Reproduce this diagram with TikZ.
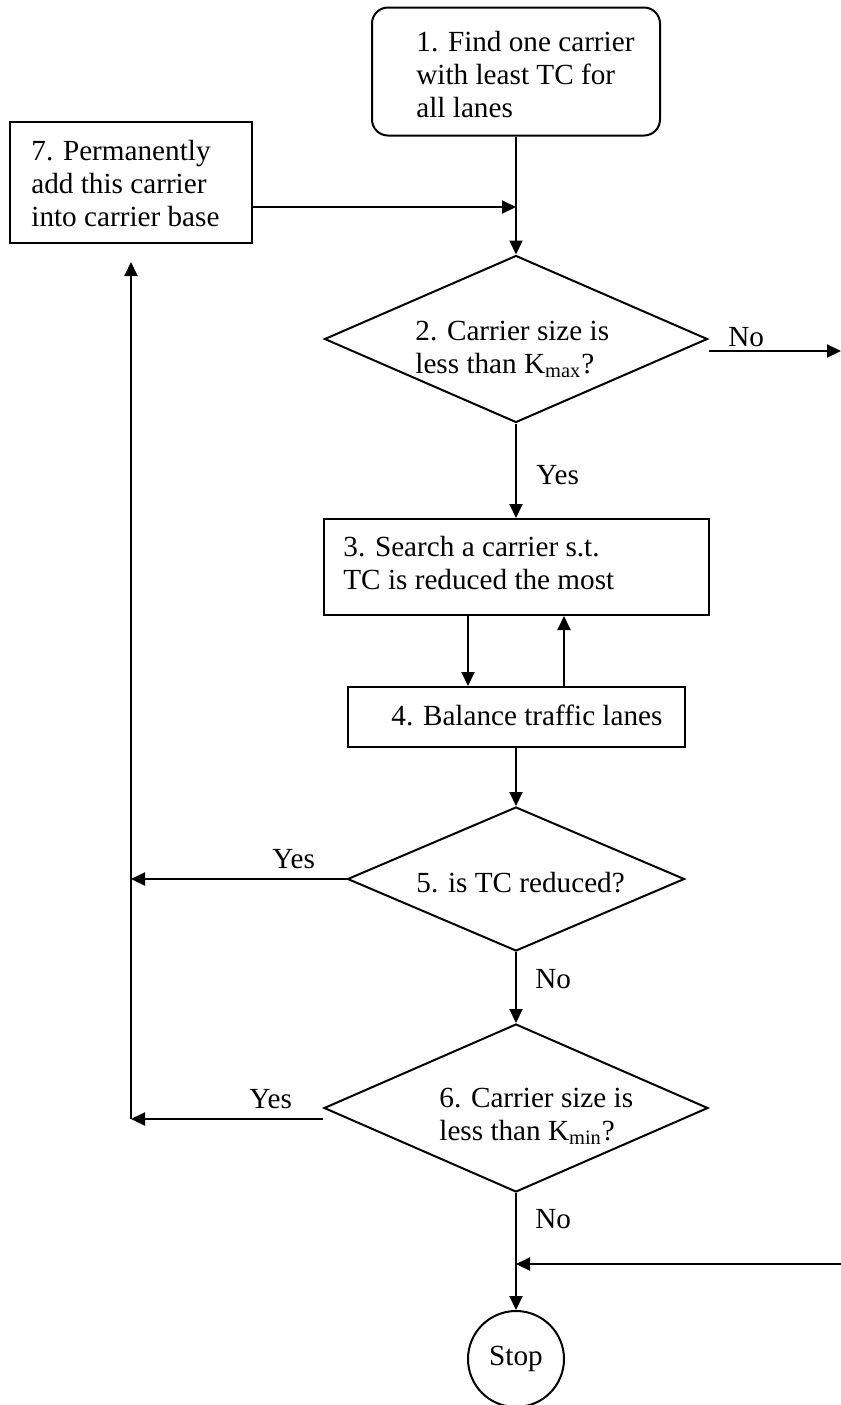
\documentclass[tikz,border=0pt]{standalone}
\usepackage{fontspec}
\setmainfont{Liberation Serif}
\usetikzlibrary{calc,shapes.geometric,arrows.meta}
\newcommand{\flowfont}{\fontsize{14.6}{16.5}\selectfont}

\begin{document}
\begin{tikzpicture}[x=0.5pt, y=-0.5pt, font=\flowfont]
\tikzset{stepbox/.style={draw,line width=1pt,inner sep=0},
decision/.style={stepbox,diamond},
steptext/.style={inner sep=0,align=left,anchor=west},
branchlabel/.style={inner sep=0,anchor=base west},
arr/.style={line width=1pt,-{Triangle[length=7pt,width=6.5pt]}}}

\useasboundingbox (0,0) rectangle (841,1405);

\node (b1) [stepbox,rounded corners=8pt,minimum width=144pt,minimum height=64pt] at (516,71.5) {};
\node (b7) [stepbox,minimum width=121pt,minimum height=60.5pt] at (131,182.5) {};
\node (d2) [decision,minimum width=191.5pt,minimum height=83.5pt] at (516,339) {};
\node (b3) [stepbox,minimum width=192.5pt,minimum height=48pt] at (516,567) {};
\node (b4) [stepbox,minimum width=168.5pt,minimum height=30pt] at (516,717) {};
\node (d5) [decision,minimum width=168.5pt,minimum height=72pt] at (516,879) {};
\node (d6) [decision,minimum width=192pt,minimum height=84pt] at (516,1108) {};
\node (stop) [stepbox,circle,minimum size=48pt] at (516,1359) {Stop};

% texts of the steps
\node (t1) [steptext] at (416,75) {1. Find one carrier\\with least TC for\\all lanes};
\node (t7) [steptext] at (31,183.5) {7. Permanently\\add this carrier\\into carrier base};
\node (t2) [steptext] at (415,349.5) {2. Carrier size is\\less than K\textsubscript{max}?};
\node (t3) [steptext] at (343,562.5) {3. Search a carrier s.t.\\TC is reduced the most};
\node (t4) [branchlabel] at (391,725) {4. Balance traffic lanes};
\node (t5) [branchlabel] at (416,892) {5. is TC reduced?};
\node (t6) [steptext] at (439,1116.5) {6. Carrier size is\\less than K\textsubscript{min}?};

\foreach \u/\pos/\lab in {no2/{728,346}/No, yes2/{536,484}/Yes, yes5/{272,868}/Yes,
  no5/{535,988}/No, yes6/{249,1108}/Yes, no6/{535,1228}/No}
  \node (\u) [branchlabel] at (\pos) {\lab};

\coordinate (j1) at (516,207);
\coordinate (e2) at (841,351);
\coordinate (c5) at (131,879);
\coordinate (c6) at (131,1119);
\coordinate (e6) at (841,1264);
\coordinate (j6) at (516,1264);

%% Edges
\draw[arr] (b1) -- (d2);
\draw[arr] (b7.east |- j1) -- (j1);
\draw[arr] ($(d2.east)+(0,12)$) -- (e2);
\draw[arr] (d2) -- (b3);
\draw[arr] ($(b3.south)+(-48,0)$) -- ($(b4.north)+(-48,0)$);
\draw[arr] ($(b4.north)+(48,0)$) -- ($(b3.south)+(48,0)$);
\draw[arr] (b4) -- (d5);
\draw[arr] (d5.west) -- (c5);
\draw[arr] (d5) -- (d6);
\draw[arr] ($(d6.west)+(0,11)$) -- (c6);
\draw[arr] (c6) -- ($(b7.south)+(0,18)$);
\draw[arr] (d6) -- (stop);
\draw[arr] (e6) -- (j6);

\end{tikzpicture}
\end{document}
